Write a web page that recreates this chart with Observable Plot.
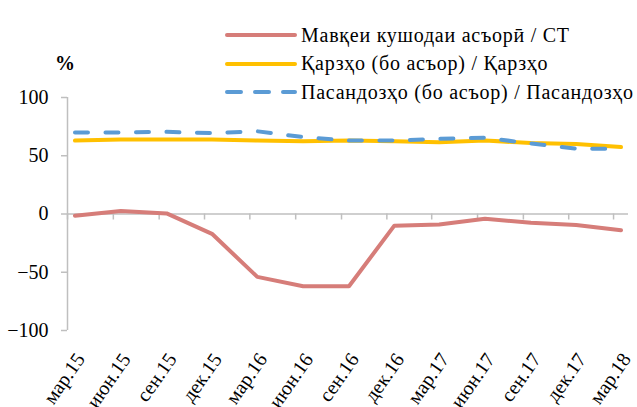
<!DOCTYPE html>
<html>
<head>
<meta charset="utf-8">
<script src="https://cdn.jsdelivr.net/npm/d3@7"></script>
<script src="https://cdn.jsdelivr.net/npm/@observablehq/plot@0.6"></script>
<style>
  html, body { margin: 0; padding: 0; background: #fff; }
  #wrap { position: relative; width: 637px; height: 407px; overflow: hidden; font-family: 'Liberation Serif', 'DejaVu Serif', serif; }
  #legend { position: absolute; left: 225px; top: 21px; font-size: 20px; letter-spacing: 0.75px; color: #000; }
  .row { display: flex; align-items: center; height: 28.5px; white-space: nowrap; }
  .row svg { margin-right: 4px; }
  #pct { position: absolute; left: 55px; top: 52px; font-size: 20px; font-weight: bold; }
</style>
</head>
<body>
<div id="wrap">
  <div id="chart"></div>
  <div id="pct">%</div>
  <div id="legend"></div>
</div>
<script>
// Quarter labels and periods
const periods = ["2015-03","2015-06","2015-09","2015-12","2016-03","2016-06","2016-09","2016-12","2017-03","2017-06","2017-09","2017-12","2018-03"];
const tickLabels = ["мар.15","июн.15","сен.15","дек.15","мар.16","июн.16","сен.16","дек.16","мар.17","июн.17","сен.17","дек.17","мар.18"];

// Series values (%)
const openPosition = [-1.5, 2.5, 0.5, -17, -54, -62, -62, -10, -9, -4, -7.5, -9.5, -14];
const loans        = [63, 64, 64, 64, 63, 62.5, 63, 62.5, 61.5, 63, 61, 60, 57.5];
const deposits     = [70, 70, 70.5, 69.5, 71, 66, 63, 63, 64.5, 65.5, 60.5, 56, 56];

const seriesNames = ["Мавқеи кушодаи асъорӣ / СТ", "Қарзҳо (бо асъор) / Қарзҳо", "Пасандозҳо (бо асъор) / Пасандозҳо"];
const seriesColors = ["#d67d79", "#ffc000", "#5b9bd5"];
const yTicks = [-100, -50, 0, 50, 100];

const tickDates = periods.map(p => new Date(p + "-01T00:00:00Z"));
const pointDate = p => new Date(p + "-16T00:00:00Z");
const xDomain = [tickDates[0], new Date("2018-03-31T00:00:00Z")];

const rows = (vals) => periods.map((p, i) => ({date: pointDate(p), value: vals[i]}));
const labelOf = d => tickLabels[tickDates.findIndex(t => +t === +d)];

const axisColor = "#bfbfbf";
const lw = 4;
const font = "'Liberation Serif', 'DejaVu Serif', serif";

const chart = Plot.plot({
  width: 637,
  height: 407,
  marginLeft: 67,
  marginRight: 9,
  marginTop: 97,
  marginBottom: 77,
  style: {fontFamily: font, fontSize: "20px", color: "#000", background: "transparent"},
  x: {type: "utc", domain: xDomain},
  y: {domain: [-100, 100]},
  marks: [
    Plot.ruleX([xDomain[0]], {stroke: axisColor, strokeWidth: 1.5}),
    Plot.ruleY([0], {stroke: axisColor, strokeWidth: 1.5}),
    Plot.ruleX(tickDates, {x: d => d, y1: () => 0, y2: () => 0, insetBottom: -6, stroke: axisColor, strokeWidth: 1.5}),
    Plot.axisY({ticks: yTicks, label: null, tickSize: 6, tickPadding: 13, stroke: axisColor, strokeWidth: 1.5, fontSize: 20, fontFamily: font, fill: "#000"}),
    Plot.axisX({ticks: tickDates, label: null, tickFormat: labelOf, tickSize: 0, tickPadding: 25, tickRotate: -55, dx: 13, fontSize: 20, fontFamily: font, fill: "#000"}),
    Plot.line(rows(openPosition), {x: "date", y: "value", stroke: seriesColors[0], strokeWidth: lw, strokeLinejoin: "round", strokeLinecap: "round"}),
    Plot.line(rows(loans), {x: "date", y: "value", stroke: seriesColors[1], strokeWidth: lw, strokeLinejoin: "round", strokeLinecap: "round"}),
    Plot.line(rows(deposits), {x: "date", y: "value", stroke: seriesColors[2], strokeWidth: lw, strokeDasharray: "13,17.5", strokeLinejoin: "round", strokeLinecap: "round"})
  ]
});
document.getElementById("chart").appendChild(chart);

// Legend
const legend = document.getElementById("legend");
seriesNames.forEach((name, i) => {
  const row = document.createElement("div");
  row.className = "row";
  const dash = i === 2 ? `stroke-dasharray="14,14"` : "";
  row.innerHTML = `<svg width="72" height="10"><line x1="2" y1="5" x2="70" y2="5" stroke="${seriesColors[i]}" stroke-width="4" stroke-linecap="round" ${dash}/></svg><span>${name}</span>`;
  legend.appendChild(row);
});
</script>
</body>
</html>
